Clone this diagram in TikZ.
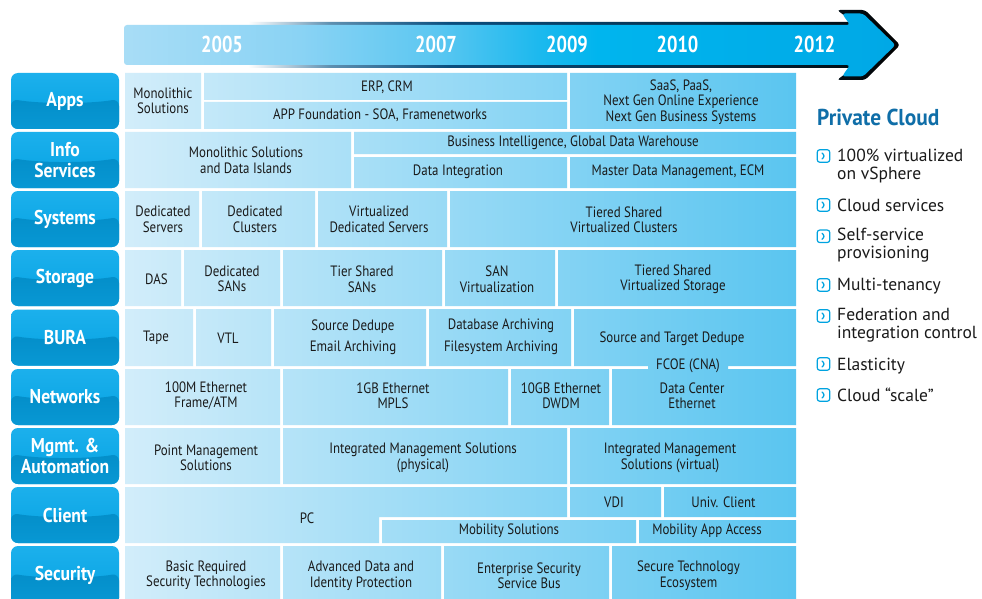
\documentclass[tikz,border=0pt]{standalone}
\usepackage{fontspec}
\setmainfont{PT Sans}
\newfontfamily\cellfont[FakeStretch=0.86]{PT Sans}
\newfontfamily\condfont[FakeStretch=0.80]{PT Sans}
\newfontfamily\lblfont[FakeStretch=0.88]{PT Sans}
\newfontfamily\headfont[FakeStretch=0.93]{PT Sans}
\newfontfamily\listfont{PT Sans}
\definecolor{txt}{HTML}{1A1A1A}
\definecolor{gridL}{HTML}{D2EDFA}
\definecolor{gridR}{HTML}{5AC5F0}
\definecolor{lblTop}{HTML}{1CB0EC}
\definecolor{lblTop2}{HTML}{04A2E2}
\definecolor{lblBot}{HTML}{0086C0}
\definecolor{lblBot2}{HTML}{0898D4}
\definecolor{pcblue}{HTML}{0F6EA8}
\definecolor{iconc}{HTML}{00A3E0}
\definecolor{listtxt}{HTML}{1A1A1A}
\definecolor{hA}{HTML}{A8DDF6}
\definecolor{hB}{HTML}{8AD3F4}
\definecolor{hC}{HTML}{5CC7F1}
\definecolor{hD}{HTML}{1DB9EE}
\definecolor{hE}{HTML}{00B5EE}
\definecolor{hF}{HTML}{00A8E6}
\definecolor{bB}{HTML}{5D8FB0}
\definecolor{bC}{HTML}{0A4E7E}
\definecolor{bD}{HTML}{06304C}
\pgfdeclarehorizontalshading{barfill}{100bp}{color(0bp)=(hA); color(25bp)=(hA); color(36.4bp)=(hB); color(45.2bp)=(hC); color(51.8bp)=(hD); color(55.7bp)=(hE); color(75bp)=(hF); color(100bp)=(hF)}
\pgfdeclarehorizontalshading{barborder}{100bp}{color(0bp)=(white); color(33bp)=(white); color(38.3bp)=(bB); color(46bp)=(bC); color(62bp)=(bD); color(75bp)=(black); color(100bp)=(black)}
\begin{document}
\begin{tikzpicture}[x=1pt,y=-1pt,
  cell/.style={font=\cellfont\fontsize{15}{15.5}\selectfont, text=txt, align=center, inner sep=0pt},
  year/.style={font=\condfont\bfseries\fontsize{23}{23}\selectfont, text=white, inner sep=0pt},
  catbox/.style={rounded corners=7pt, minimum width=108pt, minimum height=56pt, inner sep=0pt,
    top color=lblTop, bottom color=lblTop2, text=white, align=center,
    font=\lblfont\bfseries\fontsize{20}{21}\selectfont,
    path picture={\shade[top color=lblBot, bottom color=lblBot2]
      ([yshift=2pt]path picture bounding box.west) .. controls +(30pt,-5pt) and +(-30pt,-5pt) ..
      ([yshift=2pt]path picture bounding box.east) -- (path picture bounding box.south east)
      -- (path picture bounding box.south west) -- cycle;}},
  iconbox/.style={draw=iconc, line width=1.2pt, rounded corners=2.5pt, minimum size=12.5pt, inner sep=0pt,
    path picture={\draw[iconc, line width=1.3pt, line cap=round, line join=round]
      ([xshift=-1.5pt,yshift=3pt]path picture bounding box.center) --
      ([xshift=1.5pt]path picture bounding box.center) --
      ([xshift=-1.5pt,yshift=-3pt]path picture bounding box.center);}},
  item/.style={font=\listfont\fontsize{17.5}{18}\selectfont, text=listtxt, align=left, anchor=west, inner sep=0pt}]
\useasboundingbox (0,0) rectangle (982,599);
\clip (0,0) rectangle (982,599);
\fill[white] (0,0) rectangle (982,599);

% header arrow
\path[shading=barborder, rounded corners=3pt]
  (124,22) -- (853,22) -- (837,10) -- (865,10) -- (900,45) -- (865,80) -- (837,80) -- (853,68) -- (124,68) -- cycle;
\path[shading=barfill, rounded corners=3pt]
  (124,25) -- (850,25) -- (842,13.5) -- (863,13.5) -- (895.5,45) -- (863,76.5) -- (842,76.5) -- (850,65) -- (124,65) -- cycle;
\node[year] (y05) at (222,44) {2005};
\node[year] (y07) at (436,44) {2007};
\node[year] (y09) at (567,44) {2009};
\node[year] (y10) at (677.5,44) {2010};
\node[year] (y12) at (814.5,44) {2012};

% grid cells
\shade[left color=gridL, right color=gridR]
 (125,73) rectangle (201,129)
 (204,73) rectangle (567,100)
 (204,102) rectangle (567,129)
 (570,73) rectangle (796,129)
 (125,132) rectangle (351,188)
 (354,132) rectangle (796,154)
 (354,157) rectangle (567,188)
 (570,157) rectangle (796,188)
 (125,191) rectangle (199,247)
 (202,191) rectangle (315,247)
 (318,191) rectangle (447,247)
 (450,191) rectangle (796,247)
 (125,250) rectangle (181,306)
 (184,250) rectangle (280,306)
 (283,250) rectangle (442,306)
 (445,250) rectangle (555,306)
 (558,250) rectangle (796,306)
 (125,309) rectangle (193,366)
 (196,309) rectangle (271,366)
 (274,309) rectangle (426,366)
 (429,309) rectangle (571,366)
 (574,309) rectangle (796,366)
 (648,364) rectangle (728,371)
 (125,369) rectangle (280,425)
 (283,369) rectangle (508,425)
 (511,369) rectangle (609,425)
 (612,369) rectangle (796,425)
 (125,428) rectangle (280,484)
 (283,428) rectangle (567,484)
 (570,428) rectangle (796,484)
 (125,487) -- (125,543) -- (379,543) -- (379,517) -- (567,517) -- (567,487) -- cycle
 (570,487) rectangle (661,517)
 (664,487) rectangle (796,517)
 (382,520) rectangle (636,543)
 (639,520) rectangle (796,543)
 (125,546) rectangle (280,605)
 (283,546) rectangle (441,605)
 (444,546) rectangle (609,605)
 (612,546) rectangle (796,605);

% row labels
\node[catbox] (L1) at (65,101) {Apps};
\node[catbox] (L2) at (65,160) {Info\\Services};
\node[catbox] (L3) at (65,219) {Systems};
\node[catbox] (L4) at (65,278) {Storage};
\node[catbox] (L5) at (65,337.5) {BURA};
\node[catbox] (L6) at (65,397) {Networks};
\node[catbox] (L7) at (65,456) {Mgmt. \&\\Automation};
\node[catbox] (L8) at (65,515) {Client};
\node[catbox, minimum height=59pt] (L9) at (65,575.5) {Security};

% cell texts
\node[cell] (a1) at (163,101) {Monolithic\\Solutions};
\node[cell] (a2) at (387,87) {ERP, CRM};
\node[cell] (a3) at (380,115.5) {APP Foundation - SOA, Framenetworks};
\node[cell] (a4) at (681,102) {SaaS, PaaS,\\Next Gen Online Experience\\Next Gen Business Systems};
\node[cell] (b1) at (246,160) {Monolithic Solutions\\and Data Islands};
\node[cell] (b2) at (573,143) {Business Intelligence, Global Data Warehouse};
\node[cell] (b3) at (458,172) {Data Integration};
\node[cell] (b4) at (678,172) {Master Data Management, ECM};
\node[cell] (c1) at (163,219.5) {Dedicated\\Servers};
\node[cell] (c2) at (255,219.5) {Dedicated\\Clusters};
\node[cell] (c3) at (379,219.5) {Virtualized\\Dedicated Servers};
\node[cell] (c4) at (624,219.5) {Tiered Shared\\Virtualized Clusters};
\node[cell] (d1) at (156.5,279) {DAS};
\node[cell] (d2) at (232,279) {Dedicated\\SANs};
\node[cell] (d3) at (362,279) {Tier Shared\\SANs};
\node[cell] (d4) at (497,279) {SAN\\Virtualization};
\node[cell] (d5) at (673,279) {Tiered Shared\\Virtualized Storage};
\node[cell] (e1) at (156,338) {Tape};
\node[cell] (e2) at (228,338) {VTL};
\node[cell] (e3) at (353,337) {Source Dedupe\\[6pt]Email Archiving};
\node[cell] (e4) at (501,337) {Database Archiving\\[6pt]Filesystem Archiving};
\node[cell] (e5) at (672,338.5) {Source and Target Dedupe};
\node[cell] (e6) at (688,366) {FCOE (CNA)};
\node[cell] (f1) at (206,395.5) {100M Ethernet\\Frame/ATM};
\node[cell] (f2) at (393,395.5) {1GB Ethernet\\MPLS};
\node[cell] (f3) at (561,395.5) {10GB Ethernet\\DWDM};
\node[cell] (f4) at (692,395.5) {Data Center\\Ethernet};
\node[cell] (g1) at (206,458) {Point Management\\Solutions};
\node[cell] (g2) at (423,458) {Integrated Management Solutions\\(physical)};
\node[cell] (g3) at (670,458) {Integrated Management\\Solutions (virtual)};
\node[cell] (h1) at (307,518) {PC};
\node[cell] (h2) at (614,502) {VDI};
\node[cell] (h3) at (723.5,502) {Univ. Client};
\node[cell] (h4) at (509,531) {Mobility Solutions};
\node[cell] (h5) at (707,531) {Mobility App Access};
\node[cell] (k1) at (206,575.5) {Basic Required\\Security Technologies};
\node[cell] (k2) at (361,575.5) {Advanced Data and\\Identity Protection};
\node[cell] (k3) at (529,575.5) {Enterprise Security\\Service Bus};
\node[cell] (k4) at (688.5,575.5) {Secure Technology\\Ecosystem};

% right panel
\node[font=\headfont\bfseries\fontsize{23}{23}\selectfont, text=pcblue, anchor=west, inner sep=0pt] (pc) at (817,117) {Private Cloud};
\node[iconbox] (i1) at (823.5,156) {};
\node[item] (t1) at (837,166) {100\% virtualized\\on vSphere};
\node[iconbox] (i2) at (823.5,205) {};
\node[item] (t2) at (837,205) {Cloud services};
\node[iconbox] (i3) at (823.5,236.3) {};
\node[item] (t3) at (837,245.5) {Self-service\\provisioning};
\node[iconbox] (i4) at (823.5,285) {};
\node[item] (t4) at (837,285.7) {Multi-tenancy};
\node[iconbox] (i5) at (823.5,316) {};
\node[item] (t5) at (837,325.3) {Federation and\\integration control};
\node[iconbox] (i6) at (823.5,364) {};
\node[item] (t6) at (837,365.7) {Elasticity};
\node[iconbox] (i7) at (823.5,395) {};
\node[item] (t7) at (837,395) {Cloud “scale”};
\end{tikzpicture}
\end{document}
